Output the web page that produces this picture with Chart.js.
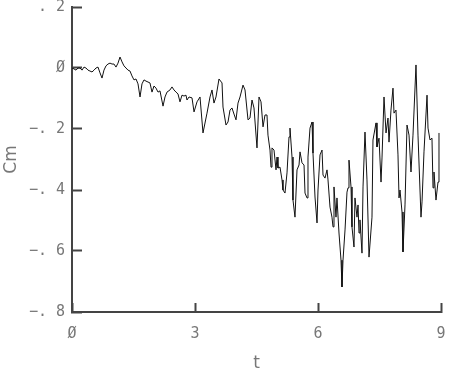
<!DOCTYPE html>
<html>
<head>
<meta charset="utf-8">
<script src="https://cdn.jsdelivr.net/npm/chart.js@4/dist/chart.umd.min.js"></script>
<style>
html,body{margin:0;padding:0;background:#fff;}
#wrap{width:476px;height:369px;position:relative;}
</style>
</head>
<body>
<div id="wrap"><canvas id="c" width="476" height="369"></canvas></div>
<script>
const tValues = [0.000,0.049,0.098,0.146,0.195,0.244,0.293,0.341,0.390,0.439,0.488,0.537,0.585,0.634,0.683,0.732,0.780,0.829,0.878,0.927,0.976,1.024,1.073,1.122,1.171,1.220,1.268,1.317,1.366,1.415,1.463,1.512,1.561,1.610,1.659,1.707,1.756,1.805,1.854,1.902,1.951,2.000,2.049,2.098,2.146,2.220,2.268,2.317,2.390,2.439,2.488,2.537,2.585,2.634,2.683,2.732,2.780,2.805,2.854,2.927,2.976,3.049,3.122,3.195,3.293,3.366,3.415,3.463,3.512,3.585,3.659,3.683,3.756,3.805,3.854,3.902,3.951,4.000,4.049,4.098,4.171,4.220,4.293,4.341,4.390,4.439,4.512,4.561,4.610,4.659,4.707,4.756,4.780,4.829,4.854,4.878,4.927,4.976,5.000,5.024,5.073,5.122,5.146,5.195,5.244,5.293,5.317,5.366,5.390,5.439,5.488,5.537,5.561,5.610,5.659,5.683,5.732,5.756,5.805,5.854,5.878,5.927,5.976,6.000,6.049,6.098,6.122,6.171,6.220,6.244,6.293,6.341,6.366,6.390,6.439,6.463,6.512,6.561,6.585,6.610,6.659,6.707,6.732,6.756,6.805,6.829,6.878,6.902,6.951,6.976,7.000,7.024,7.073,7.098,7.146,7.195,7.244,7.317,7.341,7.415,7.439,7.488,7.537,7.561,7.610,7.659,7.707,7.732,7.780,7.829,7.854,7.902,7.951,7.976,8.000,8.049,8.073,8.122,8.171,8.220,8.268,8.317,8.390,8.439,8.512,8.537,8.585,8.659,8.683,8.732,8.780,8.805,8.829,8.878,8.927,8.951];
const cmValues = [0.000,-0.003,-0.007,0.000,0.000,-0.007,0.003,0.000,-0.007,-0.010,-0.013,-0.007,0.000,0.003,-0.016,-0.033,-0.007,0.007,0.013,0.016,0.013,0.013,0.003,0.016,0.036,0.020,0.007,0.000,-0.007,-0.010,-0.026,-0.039,-0.036,-0.052,-0.095,-0.052,-0.039,-0.043,-0.046,-0.049,-0.079,-0.059,-0.066,-0.079,-0.075,-0.125,-0.095,-0.079,-0.072,-0.062,-0.072,-0.079,-0.085,-0.111,-0.089,-0.092,-0.089,-0.105,-0.095,-0.098,-0.144,-0.111,-0.095,-0.213,-0.148,-0.095,-0.072,-0.115,-0.095,-0.036,-0.049,-0.128,-0.187,-0.177,-0.138,-0.131,-0.151,-0.170,-0.115,-0.095,-0.056,-0.072,-0.170,-0.164,-0.105,-0.131,-0.262,-0.095,-0.111,-0.193,-0.154,-0.154,-0.220,-0.269,-0.325,-0.262,-0.269,-0.334,-0.292,-0.328,-0.325,-0.367,-0.400,-0.410,-0.344,-0.226,-0.197,-0.292,-0.433,-0.489,-0.334,-0.318,-0.275,-0.311,-0.318,-0.410,-0.426,-0.292,-0.197,-0.177,-0.279,-0.423,-0.508,-0.400,-0.285,-0.269,-0.351,-0.361,-0.334,-0.367,-0.456,-0.489,-0.521,-0.390,-0.489,-0.426,-0.541,-0.630,-0.718,-0.630,-0.531,-0.407,-0.393,-0.302,-0.390,-0.521,-0.587,-0.426,-0.489,-0.449,-0.541,-0.498,-0.607,-0.390,-0.210,-0.367,-0.620,-0.489,-0.236,-0.180,-0.259,-0.230,-0.374,-0.295,-0.095,-0.213,-0.164,-0.243,-0.138,-0.066,-0.148,-0.138,-0.285,-0.426,-0.400,-0.472,-0.603,-0.449,-0.187,-0.220,-0.341,-0.220,0.010,-0.220,-0.489,-0.439,-0.275,-0.089,-0.197,-0.236,-0.230,-0.393,-0.341,-0.433,-0.374,-0.213];
const xTickValues = [0, 3, 6, 9];
const xTickLabels = ['Ø', '3', '6', '9'];
const yTickValues = [-0.8, -0.6, -0.4, -0.2, 0, 0.2];
const yTickLabels = ['−. 8', '−. 6', '−. 4', '−. 2', 'Ø', '. 2'];
const xTitle = 't';
const yTitle = 'Cm';

const points = tValues.map((t, i) => ({x: t, y: cmValues[i]}));
const tickFont = {family: 'DejaVu Sans Mono', size: 15};
const titleFont = {family: 'DejaVu Sans', size: 17};
const axisColor = '#444';
const textColor = '#777';

function lookup(vals, labels, v) {
  for (let i = 0; i < vals.length; i++) if (Math.abs(vals[i] - v) < 1e-6) return labels[i];
  return '';
}

new Chart(document.getElementById('c'), {
  type: 'line',
  data: {
    datasets: [{
      data: points,
      borderColor: '#111',
      borderWidth: 1,
      pointRadius: 0,
      tension: 0,
      fill: false
    }]
  },
  options: {
    responsive: false,
    animation: false,
    devicePixelRatio: 1,
    layout: {autoPadding: false, padding: {top: 7, right: 35, bottom: 0, left: 0}},
    plugins: {legend: {display: false}, tooltip: {enabled: false}},
    scales: {
      x: {
        type: 'linear',
        min: 0, max: 9,
        afterFit: s => { s.height = 57; s.paddingLeft = 0; s.paddingRight = 0; },
        afterBuildTicks: s => { s.ticks = xTickValues.map(v => ({value: v})); },
        ticks: {
          callback: v => lookup(xTickValues, xTickLabels, v),
          font: tickFont, color: textColor, padding: 22, maxRotation: 0, autoSkip: false
        },
        grid: {drawOnChartArea: false, drawTicks: true, tickLength: -9, tickWidth: 2, tickColor: axisColor},
        border: {display: true, color: axisColor, width: 2},
        title: {display: true, text: xTitle, font: titleFont, color: textColor, padding: {top: 0, bottom: -5}}
      },
      y: {
        type: 'linear',
        min: -0.8, max: 0.2,
        afterFit: s => { s.width = 72; s.paddingTop = 0; s.paddingBottom = 0; },
        afterBuildTicks: s => { s.ticks = yTickValues.map(v => ({value: v})); },
        ticks: {
          callback: v => lookup(yTickValues, yTickLabels, v),
          font: tickFont, color: textColor, padding: 17, autoSkip: false
        },
        grid: {drawOnChartArea: false, drawTicks: true, tickLength: -10, tickWidth: 2, tickColor: axisColor},
        border: {display: true, color: axisColor, width: 2},
        title: {display: true, text: yTitle, font: titleFont, color: textColor, padding: {top: 1, bottom: 0}}
      }
    }
  }
});
</script>
</body>
</html>
